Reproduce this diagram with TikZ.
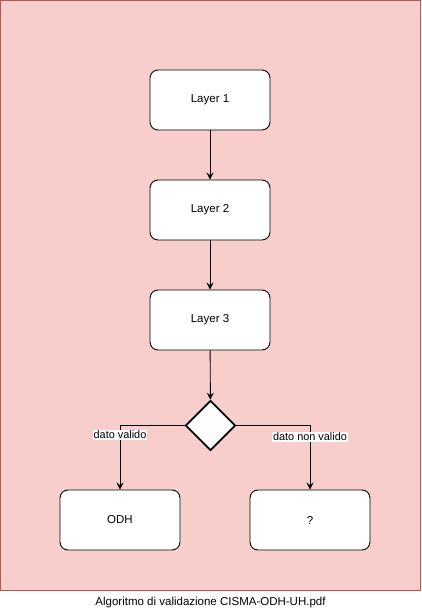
\documentclass[tikz,border=0pt]{standalone}
\usepackage{fontspec}
\setmainfont{Liberation Sans}
\usetikzlibrary{arrows.meta,shapes.geometric}
\definecolor{panelfill}{HTML}{F8CECC}
\definecolor{panelline}{HTML}{B85450}
\begin{document}
\begin{tikzpicture}[x=1pt,y=-1pt,
  stepbox/.style={draw=black,fill=white,rounded corners=8pt,line width=0.9pt,
    minimum width=120pt,minimum height=60pt,inner sep=0pt,font=\fontsize{11.5}{13}\selectfont},
  choice/.style={draw=black,fill=white,diamond,line width=1.8pt,aspect=1,
    minimum width=50pt,minimum height=50pt,inner sep=0pt},
  flow/.style={draw=black,line width=0.9pt,-{Stealth[length=7pt,width=7pt,inset=2.5pt]}},
  tag/.style={fill=white,inner sep=1pt,font=\fontsize{10.9}{12}\selectfont}]
\useasboundingbox (0,0) rectangle (421,612);
% background panel
\draw[fill=panelfill,draw=panelline,line width=1pt] (0.5,0.5) rectangle (420.5,590);
% process steps
\node[stepbox] (l1) at (210,100) {Layer 1};
\node[stepbox] (l2) at (210,210) {Layer 2};
\node[stepbox] (l3) at (210,320) {Layer 3};
\node[choice] (dec) at (210.5,425.5) {};
\node[stepbox] (odh) at (120,520) {ODH};
\node[stepbox] (unk) at (310,520) {?};
% connectors
\draw[flow] (l1) -- (l2);
\draw[flow] (l2) -- (l3);
\draw[flow] (l3) -- (dec);
\draw[flow] (dec.west) -| (odh.north) node[tag,pos=0.574] {dato valido};
\draw[flow] (dec.east) -| (unk.north) node[tag,pos=0.589] {dato non valido};
% caption
\node[font=\fontsize{11.5}{13}\selectfont] (cap) at (210.5,602.5) {Algoritmo di validazione CISMA-ODH-UH.pdf};
\end{tikzpicture}
\end{document}
